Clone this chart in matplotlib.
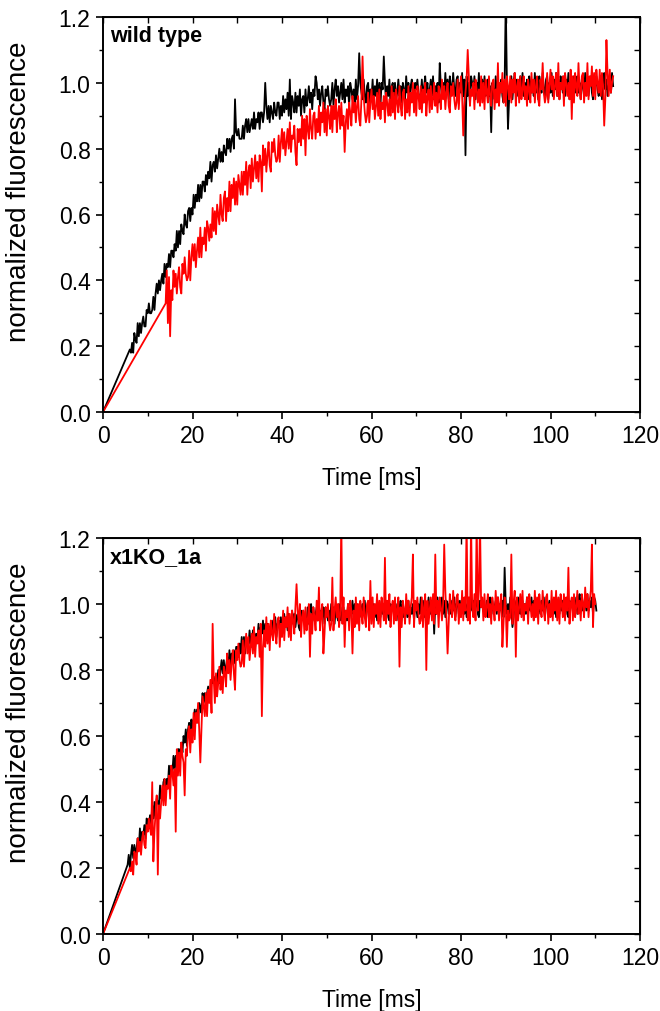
import numpy as np
import matplotlib
matplotlib.use("Agg")
import matplotlib.pyplot as plt
from matplotlib.ticker import MultipleLocator

plt.rcParams['font.family'] = ['Liberation Sans', 'DejaVu Sans']

# ---------------- data ----------------
# Each trace: values sampled evenly between t0 and t1 (ms); every trace starts at the origin.
# Panel A: wild type
wt_black_t0, wt_black_t1 = 6.0, 114.0
wt_black = [
    0.19, 0.18, 0.21, 0.18, 0.24, 0.22, 0.21, 0.27, 0.23, 0.27, 0.24, 0.27, 0.29, 0.26, 0.26, 0.31, 0.30, 0.33, 0.30, 0.30,
    0.31, 0.35, 0.31, 0.36, 0.39, 0.36, 0.40, 0.37, 0.40, 0.42, 0.39, 0.45, 0.41, 0.45, 0.44, 0.48, 0.44, 0.49, 0.49, 0.47,
    0.51, 0.49, 0.55, 0.50, 0.55, 0.51, 0.57, 0.55, 0.54, 0.60, 0.57, 0.56, 0.61, 0.62, 0.58, 0.62, 0.60, 0.66, 0.62, 0.66,
    0.64, 0.69, 0.64, 0.69, 0.65, 0.70, 0.70, 0.67, 0.72, 0.69, 0.73, 0.71, 0.76, 0.70, 0.75, 0.76, 0.73, 0.78, 0.74, 0.77,
    0.80, 0.76, 0.79, 0.76, 0.81, 0.79, 0.78, 0.83, 0.80, 0.83, 0.79, 0.83, 0.84, 0.80, 0.95, 0.85, 0.84, 0.86, 0.83, 0.83,
    0.83, 0.87, 0.83, 0.87, 0.89, 0.85, 0.89, 0.85, 0.87, 0.89, 0.86, 0.91, 0.86, 0.89, 0.88, 0.91, 0.86, 0.91, 0.91, 0.88,
    0.91, 1.00, 0.93, 0.89, 0.93, 0.88, 0.93, 0.91, 0.89, 0.94, 0.91, 0.90, 0.94, 0.94, 0.89, 0.93, 0.90, 0.96, 0.91, 0.95,
    0.92, 0.97, 0.90, 1.01, 0.89, 0.96, 0.94, 0.91, 0.97, 0.91, 0.96, 0.93, 0.98, 0.90, 0.95, 0.96, 0.91, 0.98, 0.93, 0.95,
    0.99, 0.94, 0.97, 0.92, 0.98, 0.96, 1.02, 1.00, 0.95, 0.98, 0.93, 0.97, 0.99, 0.94, 0.92, 0.98, 0.96, 0.99, 0.95, 0.93,
    0.95, 1.00, 0.93, 0.98, 1.01, 0.96, 0.99, 0.94, 0.97, 1.00, 0.95, 1.01, 0.94, 0.98, 0.96, 0.99, 0.93, 1.00, 0.98, 0.95,
    0.98, 0.94, 1.01, 0.95, 0.99, 1.09, 1.00, 0.97, 0.95, 1.01, 0.96, 0.94, 0.99, 1.00, 0.93, 0.98, 0.95, 1.01, 0.94, 0.99,
    0.96, 1.01, 0.94, 1.00, 0.93, 1.00, 0.98, 1.08, 1.00, 0.94, 0.99, 0.96, 1.01, 0.93, 0.99, 1.00, 0.94, 1.00, 0.95, 0.97,
    1.01, 0.96, 0.99, 0.94, 1.00, 0.98, 0.95, 1.02, 0.97, 1.00, 0.95, 0.99, 1.01, 0.96, 0.94, 1.00, 0.98, 1.01, 0.97, 0.95,
    0.96, 1.01, 0.94, 0.99, 1.02, 0.97, 1.00, 0.95, 0.98, 1.01, 0.96, 1.02, 0.95, 0.99, 0.97, 1.00, 0.94, 1.06, 0.99, 0.96,
    1.00, 0.96, 1.03, 0.97, 1.01, 0.95, 1.02, 0.99, 0.97, 1.03, 0.98, 0.96, 1.01, 1.02, 0.95, 1.00, 0.97, 1.03, 0.96, 1.01,
    0.78, 1.02, 0.96, 1.00, 0.94, 1.02, 1.00, 0.97, 1.02, 0.95, 1.00, 0.97, 1.03, 0.94, 1.00, 1.01, 0.95, 1.02, 0.96, 0.99,
    1.01, 0.96, 0.99, 0.85, 1.00, 0.98, 0.95, 1.02, 0.97, 1.00, 0.95, 0.99, 1.01, 0.96, 0.94, 1.00, 1.25, 1.01, 0.86, 0.95,
    0.97, 1.02, 0.95, 1.00, 1.03, 0.98, 1.01, 0.96, 0.99, 1.02, 0.97, 1.03, 0.96, 1.00, 0.98, 1.01, 0.95, 1.02, 1.00, 0.97,
    1.00, 0.96, 1.03, 0.97, 1.01, 0.95, 1.02, 0.99, 0.97, 1.03, 0.98, 0.96, 1.01, 1.02, 0.95, 1.00, 0.97, 1.03, 0.96, 1.01,
    0.98, 1.03, 0.96, 1.01, 0.95, 1.02, 1.00, 0.97, 1.02, 0.96, 1.01, 0.98, 1.03, 0.95, 1.00, 1.01, 0.96, 1.02, 0.97, 0.99,
    1.02, 0.97, 1.00, 0.95, 1.01, 0.99, 0.96, 1.03, 0.98, 1.01, 0.96, 1.00, 1.02, 0.97, 0.95, 1.01, 0.99, 1.02, 0.98, 0.96,
    0.97, 1.02, 0.95, 1.00, 1.03, 0.98, 1.01, 0.96, 0.99, 1.02, 0.97, 1.03, 0.99,
]
wt_red_t0, wt_red_t1 = 14.0, 114.0
wt_red = [
    0.33, 0.43, 0.27, 0.41, 0.23, 0.37, 0.34, 0.43, 0.38, 0.42, 0.36, 0.41, 0.44, 0.38, 0.36, 0.45, 0.42, 0.47, 0.42, 0.40,
    0.41, 0.49, 0.40, 0.47, 0.51, 0.46, 0.51, 0.44, 0.49, 0.53, 0.47, 0.56, 0.47, 0.53, 0.51, 0.56, 0.49, 0.58, 0.56, 0.52,
    0.57, 0.53, 0.62, 0.55, 0.61, 0.54, 0.63, 0.60, 0.57, 0.66, 0.60, 0.58, 0.65, 0.67, 0.58, 0.65, 0.61, 0.70, 0.61, 0.69,
    0.65, 0.71, 0.63, 0.70, 0.63, 0.72, 0.69, 0.66, 0.73, 0.66, 0.73, 0.69, 0.76, 0.66, 0.73, 0.75, 0.68, 0.77, 0.70, 0.74,
    0.78, 0.71, 0.76, 0.70, 0.78, 0.76, 0.67, 0.81, 0.75, 0.80, 0.73, 0.78, 0.82, 0.75, 0.73, 0.82, 0.79, 0.83, 0.78, 0.76,
    0.77, 0.84, 0.76, 0.82, 0.86, 0.80, 0.85, 0.78, 0.82, 0.86, 0.80, 0.88, 0.79, 0.84, 0.83, 0.87, 0.79, 0.75, 0.86, 0.82,
    0.86, 0.81, 0.90, 0.83, 0.89, 0.78, 0.90, 0.86, 0.83, 0.92, 0.86, 0.83, 0.90, 0.91, 0.83, 0.89, 0.85, 0.93, 0.84, 0.91,
    0.88, 0.94, 0.85, 0.92, 0.84, 0.93, 0.90, 0.86, 0.93, 0.85, 0.93, 0.89, 0.95, 0.85, 0.91, 0.93, 0.86, 0.94, 0.87, 0.90,
    0.79, 0.88, 0.92, 0.86, 0.94, 0.91, 0.87, 0.96, 0.91, 0.94, 0.88, 0.93, 0.96, 0.89, 0.87, 0.95, 1.08, 0.96, 0.91, 0.88,
    0.90, 0.97, 0.88, 0.94, 0.98, 0.92, 0.96, 0.89, 0.93, 0.97, 0.90, 0.98, 0.89, 0.94, 0.92, 0.96, 0.88, 0.97, 0.94, 0.90,
    0.95, 0.90, 0.99, 0.91, 0.97, 0.89, 0.98, 0.94, 0.91, 0.99, 0.93, 0.90, 0.97, 0.98, 0.89, 0.95, 0.91, 0.99, 0.90, 0.97,
    0.94, 1.00, 0.91, 0.98, 0.90, 0.99, 0.96, 0.92, 0.99, 0.91, 0.98, 0.94, 1.00, 0.90, 0.96, 0.98, 0.91, 0.99, 0.92, 0.95,
    1.00, 0.93, 0.97, 0.91, 0.99, 0.96, 0.92, 1.01, 0.95, 0.99, 0.92, 0.97, 1.00, 0.93, 0.91, 0.99, 0.96, 1.00, 0.95, 0.92,
    0.94, 1.01, 0.92, 0.98, 1.02, 0.96, 0.84, 0.93, 0.97, 1.01, 1.10, 1.02, 0.93, 0.98, 0.96, 1.00, 0.92, 1.01, 0.98, 0.94,
    0.98, 0.93, 1.02, 0.94, 1.00, 0.92, 1.01, 0.97, 0.94, 1.02, 0.96, 0.93, 1.00, 1.01, 0.92, 0.98, 0.94, 1.06, 0.93, 1.00,
    0.97, 1.03, 0.94, 1.01, 0.93, 1.02, 0.99, 0.95, 1.02, 0.94, 1.01, 0.97, 1.03, 0.93, 0.99, 1.01, 0.94, 1.02, 0.95, 0.98,
    1.02, 0.95, 0.99, 0.93, 1.01, 0.98, 0.94, 1.03, 0.97, 1.01, 0.94, 0.99, 1.02, 0.95, 0.93, 1.01, 0.98, 1.06, 0.97, 0.94,
    0.96, 1.03, 0.94, 0.99, 1.04, 0.98, 1.02, 0.95, 0.99, 1.03, 0.96, 1.06, 0.95, 1.00, 0.98, 1.02, 0.93, 1.03, 1.00, 0.96,
    1.00, 0.95, 1.04, 0.89, 1.02, 0.94, 1.03, 0.99, 0.96, 1.06, 0.98, 0.95, 1.02, 1.03, 0.94, 1.00, 0.96, 1.06, 0.95, 1.02,
    0.99, 1.05, 0.96, 1.03, 0.95, 1.04, 1.00, 0.97, 1.04, 0.96, 1.03, 0.99, 0.87, 0.95, 1.13, 1.03, 0.96, 1.04, 0.97, 1.00,
    1.02,
]

# Panel B: x1KO_1a
ko_black_t0, ko_black_t1 = 5.5, 110.25
ko_black = [
    0.21, 0.24, 0.20, 0.24, 0.27, 0.23, 0.27, 0.24, 0.26, 0.29, 0.26, 0.32, 0.27, 0.31, 0.30, 0.33, 0.29, 0.35, 0.34, 0.32,
    0.36, 0.33, 0.39, 0.35, 0.40, 0.35, 0.41, 0.40, 0.39, 0.45, 0.41, 0.41, 0.46, 0.47, 0.42, 0.47, 0.45, 0.51, 0.47, 0.51,
    0.49, 0.54, 0.50, 0.54, 0.50, 0.56, 0.56, 0.53, 0.58, 0.55, 0.60, 0.58, 0.62, 0.57, 0.62, 0.64, 0.60, 0.65, 0.62, 0.65,
    0.68, 0.64, 0.68, 0.64, 0.70, 0.69, 0.67, 0.73, 0.70, 0.73, 0.70, 0.73, 0.75, 0.72, 0.71, 0.77, 0.76, 0.78, 0.76, 0.75,
    0.76, 0.80, 0.76, 0.80, 0.83, 0.79, 0.83, 0.79, 0.81, 0.84, 0.80, 0.86, 0.81, 0.85, 0.83, 0.86, 0.82, 0.87, 0.87, 0.84,
    0.88, 0.85, 0.90, 0.85, 0.90, 0.85, 0.90, 0.88, 0.87, 0.92, 0.88, 0.87, 0.92, 0.92, 0.87, 0.91, 0.89, 0.94, 0.89, 0.93,
    0.91, 0.95, 0.90, 0.94, 0.89, 0.94, 0.93, 0.91, 0.94, 0.91, 0.95, 0.92, 0.96, 0.90, 0.94, 0.95, 0.92, 0.96, 0.92, 0.94,
    0.97, 0.93, 0.96, 0.92, 0.97, 0.95, 0.93, 0.98, 0.94, 0.97, 0.93, 0.96, 0.97, 0.93, 0.92, 0.98, 0.96, 0.98, 0.95, 0.94,
    0.95, 0.99, 0.94, 0.98, 1.00, 0.96, 0.99, 0.95, 0.97, 0.99, 0.95, 1.00, 0.95, 0.98, 0.96, 0.99, 0.94, 0.99, 0.98, 0.95,
    0.98, 0.95, 1.00, 0.95, 0.99, 0.94, 0.99, 0.97, 0.95, 1.00, 0.96, 0.95, 0.99, 0.99, 0.94, 0.98, 0.95, 1.00, 0.95, 0.99,
    0.97, 1.01, 0.96, 1.00, 0.95, 1.00, 0.99, 0.96, 1.00, 0.96, 1.00, 0.97, 1.01, 0.95, 0.99, 1.00, 0.96, 1.00, 0.96, 0.98,
    1.00, 0.96, 0.99, 0.95, 1.00, 0.98, 0.96, 1.01, 0.97, 1.00, 0.96, 0.99, 1.00, 0.96, 0.95, 1.00, 0.98, 1.00, 0.97, 0.96,
    0.96, 1.00, 0.95, 0.99, 1.01, 0.97, 1.00, 0.96, 0.98, 1.00, 0.96, 1.01, 0.96, 0.99, 0.97, 1.00, 0.95, 1.00, 0.99, 0.96,
    1.00, 0.97, 1.02, 0.97, 1.01, 0.96, 1.01, 0.99, 0.97, 1.02, 0.98, 0.97, 1.01, 1.01, 0.91, 1.00, 0.97, 1.02, 0.97, 1.01,
    0.98, 1.02, 0.97, 1.01, 0.96, 1.01, 1.00, 0.97, 1.01, 0.97, 1.01, 0.98, 1.02, 0.96, 1.00, 1.01, 0.97, 1.01, 0.97, 0.99,
    1.01, 0.97, 1.00, 0.96, 1.01, 0.99, 0.97, 1.02, 0.98, 1.01, 0.97, 1.00, 1.01, 0.97, 0.96, 1.01, 0.99, 1.01, 0.98, 0.97,
    0.97, 1.01, 0.96, 1.00, 1.02, 0.98, 1.01, 0.97, 0.99, 1.01, 0.97, 1.02, 0.97, 1.00, 0.98, 1.01, 0.96, 1.11, 1.00, 0.97,
    1.00, 0.97, 1.02, 0.97, 0.93, 0.96, 1.01, 0.99, 0.97, 1.02, 0.98, 0.97, 1.01, 1.01, 0.96, 1.00, 0.97, 1.02, 0.97, 1.01,
    0.98, 1.02, 0.97, 1.01, 0.96, 1.01, 1.00, 0.97, 1.01, 0.97, 1.01, 0.98, 1.02, 0.96, 1.00, 1.01, 0.97, 1.01, 0.97, 0.99,
    1.01, 0.97, 1.00, 0.96, 1.01, 0.99, 0.97, 1.02, 0.98, 1.01, 0.97, 1.00, 1.01, 0.97, 0.96, 1.01, 0.99, 1.01, 0.98, 0.97,
    0.98, 1.02, 0.97, 1.01, 1.03, 0.99, 1.02, 0.98, 1.00, 1.02, 0.98, 1.03, 0.98, 1.01, 0.99, 1.02, 0.97, 1.02, 1.01, 0.98,
]
ko_red_t0, ko_red_t1 = 6.0, 110.0
ko_red = [
    0.20, 0.19, 0.22, 0.18, 0.25, 0.24, 0.21, 0.29, 0.25, 0.28, 0.24, 0.29, 0.31, 0.27, 0.26, 0.33, 0.31, 0.35, 0.32, 0.30,
    0.46, 0.22, 0.31, 0.37, 0.42, 0.18, 0.39, 0.35, 0.40, 0.45, 0.39, 0.47, 0.39, 0.45, 0.44, 0.48, 0.41, 0.51, 0.49, 0.45,
    0.50, 0.31, 0.56, 0.48, 0.55, 0.48, 0.58, 0.54, 0.52, 0.42, 0.56, 0.54, 0.61, 0.63, 0.55, 0.62, 0.58, 0.67, 0.59, 0.67,
    0.64, 0.70, 0.62, 0.52, 0.62, 0.72, 0.69, 0.66, 0.73, 0.66, 0.74, 0.70, 0.77, 0.67, 0.94, 0.77, 0.70, 0.79, 0.72, 0.76,
    0.81, 0.74, 0.78, 0.73, 0.81, 0.79, 0.75, 0.85, 0.79, 0.83, 0.77, 0.82, 0.86, 0.79, 0.74, 0.86, 0.83, 0.88, 0.83, 0.81,
    0.82, 0.89, 0.81, 0.87, 0.91, 0.85, 0.90, 0.83, 0.87, 0.91, 0.85, 0.93, 0.84, 0.90, 0.88, 0.92, 0.84, 0.94, 0.66, 0.87,
    0.92, 0.87, 0.96, 0.88, 0.94, 0.86, 0.95, 0.91, 0.89, 0.97, 0.91, 0.88, 0.95, 0.96, 0.87, 0.94, 0.90, 0.98, 0.89, 0.96,
    0.93, 0.99, 0.90, 0.97, 0.89, 0.98, 0.95, 0.91, 0.99, 1.06, 0.98, 0.94, 1.00, 0.90, 0.96, 0.98, 0.91, 0.99, 0.92, 0.95,
    1.00, 0.84, 0.97, 0.91, 0.99, 0.96, 0.92, 1.01, 0.95, 1.05, 0.92, 0.97, 1.00, 0.85, 0.91, 0.99, 0.96, 1.00, 0.95, 0.92,
    0.94, 1.08, 0.92, 0.98, 1.02, 0.96, 1.00, 0.93, 0.97, 1.25, 0.94, 1.02, 0.87, 0.98, 0.96, 1.00, 0.92, 1.01, 0.98, 0.85,
    0.98, 0.93, 1.02, 0.94, 1.00, 0.92, 1.01, 0.97, 0.94, 1.02, 0.96, 0.93, 1.00, 1.01, 0.92, 1.07, 0.94, 1.02, 0.93, 1.00,
    0.97, 1.03, 0.94, 1.01, 0.93, 1.02, 0.99, 0.95, 1.14, 0.94, 1.01, 0.97, 1.03, 0.93, 0.99, 1.01, 0.94, 1.02, 0.95, 0.98,
    1.02, 0.81, 0.99, 0.93, 1.01, 0.98, 0.94, 1.03, 0.97, 1.01, 0.94, 0.99, 1.02, 1.15, 0.93, 1.01, 0.98, 1.02, 0.97, 0.94,
    0.95, 1.02, 0.93, 0.99, 1.03, 0.80, 1.01, 0.94, 0.98, 1.02, 0.95, 1.03, 0.94, 1.15, 0.97, 1.01, 0.93, 1.02, 0.99, 0.95,
    1.00, 1.18, 1.04, 0.96, 0.85, 0.94, 1.03, 0.99, 0.96, 1.04, 0.98, 0.95, 1.02, 1.03, 0.94, 1.00, 0.96, 1.04, 0.95, 1.02,
    0.98, 1.25, 0.95, 1.02, 0.94, 1.25, 0.99, 0.96, 1.03, 0.95, 1.25, 0.98, 1.04, 1.25, 0.99, 1.02, 0.95, 1.03, 0.96, 0.99,
    1.03, 0.96, 1.00, 0.94, 1.02, 0.99, 0.95, 1.04, 0.98, 1.02, 0.95, 1.00, 1.03, 0.87, 0.94, 1.02, 0.99, 0.87, 0.98, 0.95,
    0.96, 1.15, 0.94, 1.00, 1.04, 0.84, 1.02, 0.95, 0.99, 1.03, 0.96, 1.04, 0.95, 1.00, 0.98, 1.02, 0.94, 1.03, 1.00, 0.96,
    1.00, 0.95, 1.04, 0.96, 1.02, 0.94, 1.03, 0.99, 0.96, 1.04, 0.98, 0.95, 1.02, 1.03, 0.94, 1.00, 0.96, 1.04, 0.95, 1.02,
    0.98, 1.04, 0.95, 1.02, 0.94, 1.03, 1.00, 0.96, 1.03, 0.95, 1.02, 0.98, 1.11, 0.94, 1.00, 1.02, 0.95, 1.03, 0.96, 0.99,
    1.04, 0.97, 1.01, 0.95, 1.03, 1.00, 0.96, 1.05, 0.99, 1.03, 0.96, 1.01, 1.04, 1.18, 0.93, 1.03, 1.00,
]

panel_titles = ["wild type", "x1KO_1a"]
x_label = "Time [ms]"
y_label = "normalized fluorescence"
x_ticks = [0, 20, 40, 60, 80, 100, 120]
y_ticks = [0.0, 0.2, 0.4, 0.6, 0.8, 1.0, 1.2]


def trace(t0, t1, vals):
    t = np.concatenate([[0.0], np.linspace(t0, t1, len(vals))])
    y = np.concatenate([[0.0], np.asarray(vals)])
    return t, y


fig = plt.figure(figsize=(6.6, 10.12), dpi=100)
W, H = 660.0, 1012.0
ax_top = fig.add_axes([103 / W, 1 - 413 / H, 537 / W, 395 / H])
ax_bot = fig.add_axes([103 / W, 1 - 935 / H, 537 / W, 396 / H])

panels = [
    (ax_top, trace(wt_black_t0, wt_black_t1, wt_black), trace(wt_red_t0, wt_red_t1, wt_red), panel_titles[0]),
    (ax_bot, trace(ko_black_t0, ko_black_t1, ko_black), trace(ko_red_t0, ko_red_t1, ko_red), panel_titles[1]),
]

for ax, (tb, yb), (tr, yr), title in panels:
    ax.plot(tb, yb, color="black", lw=1.3)
    ax.plot(tr, yr, color="#ff0000", lw=1.3)
    ax.set_xlim(0, 120)
    ax.set_ylim(0, 1.2)
    ax.set_xticks(x_ticks)
    ax.set_yticks(y_ticks)
    ax.set_yticklabels([f"{v:.1f}" for v in y_ticks])
    ax.xaxis.set_minor_locator(MultipleLocator(10))
    ax.yaxis.set_minor_locator(MultipleLocator(0.1))
    ax.tick_params(which="major", direction="out", length=5, width=1.2, labelsize=16.5, pad=4)
    ax.tick_params(which="minor", direction="out", length=3, width=1.0)
    for s in ax.spines.values():
        s.set_linewidth(1.4)
    ax.set_xlabel(x_label, fontsize=16.5, labelpad=13)
    ax.set_ylabel(y_label, fontsize=20)
    ax.yaxis.set_label_coords(-0.132, 0.56)
    ax.text(0.013, 0.952, title, transform=ax.transAxes, fontsize=15.5,
            fontweight="bold", ha="left", va="center")
    # mirrored ticks on top and right, pointing inward, no labels
    secx = ax.secondary_xaxis("top")
    secx.set_xticks(x_ticks)
    secx.xaxis.set_minor_locator(MultipleLocator(10))
    secx.tick_params(which="both", direction="in", length=4, width=1.0, labeltop=False)
    secy = ax.secondary_yaxis("right")
    secy.set_yticks(y_ticks)
    secy.yaxis.set_minor_locator(MultipleLocator(0.1))
    secy.tick_params(which="both", direction="in", length=4, width=1.0, labelright=False)

fig.savefig("out.png", dpi=100)
